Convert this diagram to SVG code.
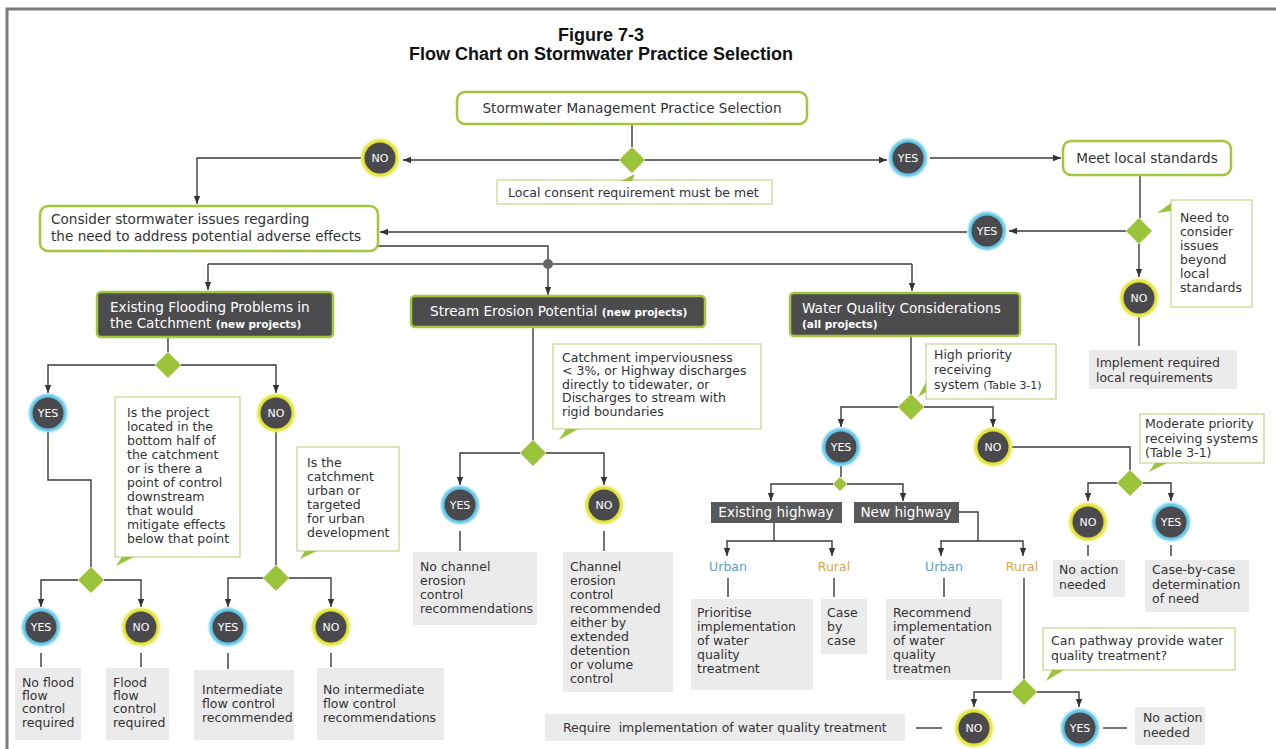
<svg xmlns="http://www.w3.org/2000/svg" width="1276" height="749" viewBox="0 0 1276 749">
<defs>
<style>
.t{font-family:"DejaVu Sans",Verdana,sans-serif;font-size:12.5px;fill:#333}
.tb{font-family:"DejaVu Sans",Verdana,sans-serif;font-size:13.6px;fill:#333}
.tw{font-family:"DejaVu Sans",Verdana,sans-serif;font-size:13.6px;fill:#fff}
.sm{font-size:10.5px;font-weight:bold}
.ttl{font-family:"Liberation Sans",Arial,sans-serif;font-size:18px;font-weight:bold;fill:#111;text-anchor:middle}
.gbox{fill:#fff;stroke:#a3c63c;stroke-width:2.5}
.dbox{fill:#4c4c4e;stroke:#a3c63c;stroke-width:2.5}
.hbox{fill:#595959}
.cbox{fill:#fff;stroke:#cdd596;stroke-width:1.3}
.gray{fill:#ebebeb}
.dia{fill:#9cc43a}
.tail{fill:#9cc43a}
.ln{fill:none;stroke:#3a3a3a;stroke-width:1.4}
.ar{marker-end:url(#ah)}
.cin{fill:#4a4a4e}
.ry{fill:#e2e32e}
.rb{fill:#5ec5e6}
.ct{font-family:"DejaVu Sans",Verdana,sans-serif;font-size:11px;fill:#fff;text-anchor:middle}
.urb{font-family:"DejaVu Sans",Verdana,sans-serif;font-size:12.5px;fill:#5b9fc9;text-anchor:middle}
.rur{font-family:"DejaVu Sans",Verdana,sans-serif;font-size:12.5px;fill:#d8a645;text-anchor:middle}
</style>
<marker id="ah" viewBox="0 0 10 10" refX="10" refY="5" markerWidth="8" markerHeight="8" orient="auto" markerUnits="userSpaceOnUse"><path d="M0,1 L10,5 L0,9 z" fill="#333"/></marker>
<filter id="bl" x="-30%" y="-30%" width="160%" height="160%"><feGaussianBlur stdDeviation="1.3"/></filter>
</defs>
<rect width="1276" height="749" fill="#fff"/>
<path d="M7,749 V9 H1276" fill="none" stroke="#7a7a7a" stroke-width="3"/>

<g id="title">
<text class="ttl" x="601" y="41">Figure 7-3</text>
<text class="ttl" x="601" y="60">Flow Chart on Stormwater Practice Selection</text>
</g>

<g id="connectors">
<path class="ln" d="M632,124 V147"/>
<path class="ln ar" d="M619,160 H403"/>
<path class="ln ar" d="M645,160 H887"/>
<path class="ln ar" d="M930,158 H1061"/>
<path class="ln ar" d="M361,158 H197 V204"/>
<path class="ln" d="M1140,175 V218"/>
<path class="ln ar" d="M1126,231 H1009"/>
<path class="ln ar" d="M1139,244 V277"/>
<path class="ln ar" d="M967,232 H380"/>
<path class="ln" d="M1139,317 V346"/>
<path class="ln" d="M378,246 H548 V264"/>
<path class="ln" d="M208,264 H912"/>
<path class="ln ar" d="M208,264 V290"/>
<path class="ln ar" d="M548,264 V295"/>
<path class="ln ar" d="M912,264 V291"/>
<circle cx="548" cy="264" r="5" fill="#666"/>
<path class="ln" d="M168,337 V352"/>
<path class="ln ar" d="M155,365 H48 V393"/>
<path class="ln ar" d="M181,365 H276 V393"/>
<path class="ln" d="M48,432 V480 H91 V567"/>
<path class="ln" d="M276,432 V565"/>
<path class="ln ar" d="M78,580 H41 V607"/>
<path class="ln ar" d="M104,580 H141 V607"/>
<path class="ln ar" d="M263,578 H228 V607"/>
<path class="ln ar" d="M289,578 H331 V607"/>
<path class="ln" d="M41,653 V667 M141,653 V667 M228,653 V669 M331,653 V667"/>
<path class="ln" d="M533,327 V440"/>
<path class="ln ar" d="M520,453 H460 V485"/>
<path class="ln ar" d="M546,453 H604 V485"/>
<path class="ln" d="M460,531 V551 M604,531 V551"/>
<path class="ln" d="M911,337 V394"/>
<path class="ln ar" d="M898,407 H841 V427"/>
<path class="ln ar" d="M924,407 H993 V427"/>
<path class="ln" d="M841,466 V477"/>
<path class="ln ar" d="M833,484 H771 V501"/>
<path class="ln ar" d="M847,484 H903 V501"/>
<path class="ln ar" d="M774,523 V541 H727 V556"/>
<path class="ln ar" d="M774,541 H832 V556"/>
<path class="ln" d="M959,512 H978 V541"/>
<path class="ln ar" d="M978,541 H941 V556"/>
<path class="ln ar" d="M978,541 H1023 V556"/>
<path class="ln" d="M728,578 V597 M834,578 V597 M944,578 V597"/>
<path class="ln" d="M1024,578 V679"/>
<path class="ln ar" d="M1011,692 H974 V707"/>
<path class="ln ar" d="M1037,692 H1079 V707"/>
<path class="ln" d="M916,728 H942"/>
<path class="ln" d="M1103,728 H1127"/>
<path class="ln" d="M1012,447 H1130 V470"/>
<path class="ln ar" d="M1117,483 H1088 V501"/>
<path class="ln ar" d="M1143,483 H1171 V501"/>
<path class="ln" d="M1088,545 V556 M1171,545 V556"/>
</g>

<g id="n_start">
<rect class="gbox" x="457" y="92" width="350" height="32" rx="8"/>
<text class="tb" x="632" y="113" text-anchor="middle">Stormwater Management Practice Selection</text>
</g>
<g id="d_local"><polygon class="dia" points="632,147 645,160 632,173 619,160"/></g>
<g id="c_local">
<rect class="cbox" x="497" y="180" width="275" height="24"/>
<polygon class="tail" points="621,181 632,181 635,174"/>
<text class="t" x="508" y="197">Local consent requirement must be met</text>
</g>
<g id="no1"><circle class="ry" cx="380" cy="158" r="19" filter="url(#bl)"/><circle class="cin" cx="380" cy="158" r="15.5"/><text class="ct" x="380" y="162">NO</text></g>
<g id="yes1"><circle class="rb" cx="908" cy="158" r="19" filter="url(#bl)"/><circle class="cin" cx="908" cy="158" r="15.5"/><text class="ct" x="908" y="162">YES</text></g>
<g id="n_meet">
<rect class="gbox" x="1063" y="141" width="168" height="34" rx="8"/>
<text class="tb" x="1147" y="163" text-anchor="middle">Meet local standards</text>
</g>
<g id="d_need"><polygon class="dia" points="1139,218 1152,231 1139,244 1126,231"/></g>
<g id="c_need">
<rect class="cbox" x="1171" y="200" width="81" height="107"/>
<polygon class="tail" points="1171,203 1171,211 1157,213"/>
<text class="t" x="1180" y="222">Need to</text>
<text class="t" x="1180" y="236">consider</text>
<text class="t" x="1180" y="250">issues</text>
<text class="t" x="1180" y="264">beyond</text>
<text class="t" x="1180" y="278">local</text>
<text class="t" x="1180" y="292">standards</text>
</g>
<g id="yes2"><circle class="rb" cx="987" cy="231" r="19" filter="url(#bl)"/><circle class="cin" cx="987" cy="231" r="15.5"/><text class="ct" x="987" y="235">YES</text></g>
<g id="no2"><circle class="ry" cx="1139" cy="298" r="19" filter="url(#bl)"/><circle class="cin" cx="1139" cy="298" r="15.5"/><text class="ct" x="1139" y="302">NO</text></g>
<g id="n_implement">
<rect class="gray" x="1089" y="350" width="148" height="39"/>
<text class="t" x="1096" y="367">Implement required</text>
<text class="t" x="1096" y="382">local requirements</text>
</g>
<g id="n_consider">
<rect class="gbox" x="40" y="206" width="338" height="45" rx="8"/>
<text class="tb" x="51" y="224">Consider stormwater issues regarding</text>
<text class="tb" x="51" y="241">the need to address potential adverse effects</text>
</g>

<g id="n_flood">
<rect class="dbox" x="97" y="292" width="236" height="45" rx="4"/>
<text class="tw" x="110" y="312">Existing Flooding Problems in</text>
<text class="tw" x="110" y="328">the Catchment <tspan class="sm">(new projects)</tspan></text>
</g>
<g id="d_flood"><polygon class="dia" points="168,352 181,365 168,378 155,365"/></g>
<g id="yes_f"><circle class="rb" cx="48" cy="413" r="19" filter="url(#bl)"/><circle class="cin" cx="48" cy="413" r="15.5"/><text class="ct" x="48" y="417">YES</text></g>
<g id="no_f"><circle class="ry" cx="276" cy="413" r="19" filter="url(#bl)"/><circle class="cin" cx="276" cy="413" r="15.5"/><text class="ct" x="276" y="417">NO</text></g>
<g id="c_project">
<rect class="cbox" x="115" y="397" width="125" height="160"/>
<polygon class="tail" points="122,557 134,557 116,566"/>
<text class="t" x="127" y="417">Is the project</text>
<text class="t" x="127" y="431">located in the</text>
<text class="t" x="127" y="445">bottom half of</text>
<text class="t" x="127" y="459">the catchment</text>
<text class="t" x="127" y="473">or is there a</text>
<text class="t" x="127" y="487">point of control</text>
<text class="t" x="127" y="501">downstream</text>
<text class="t" x="127" y="515">that would</text>
<text class="t" x="127" y="529">mitigate effects</text>
<text class="t" x="127" y="543">below that point</text>
</g>
<g id="c_urban">
<rect class="cbox" x="297" y="447" width="102" height="104"/>
<polygon class="tail" points="305,551 317,551 300,559"/>
<text class="t" x="307" y="467">Is the</text>
<text class="t" x="307" y="481">catchment</text>
<text class="t" x="307" y="495">urban or</text>
<text class="t" x="307" y="509">targeted</text>
<text class="t" x="307" y="523">for urban</text>
<text class="t" x="307" y="537">development</text>
</g>
<g id="d_proj"><polygon class="dia" points="91,567 104,580 91,593 78,580"/></g>
<g id="d_urb"><polygon class="dia" points="276,565 289,578 276,591 263,578"/></g>
<g id="yes_p"><circle class="rb" cx="41" cy="627" r="19" filter="url(#bl)"/><circle class="cin" cx="41" cy="627" r="15.5"/><text class="ct" x="41" y="631">YES</text></g>
<g id="no_p"><circle class="ry" cx="141" cy="627" r="19" filter="url(#bl)"/><circle class="cin" cx="141" cy="627" r="15.5"/><text class="ct" x="141" y="631">NO</text></g>
<g id="yes_u"><circle class="rb" cx="228" cy="627" r="19" filter="url(#bl)"/><circle class="cin" cx="228" cy="627" r="15.5"/><text class="ct" x="228" y="631">YES</text></g>
<g id="no_u"><circle class="ry" cx="331" cy="627" r="19" filter="url(#bl)"/><circle class="cin" cx="331" cy="627" r="15.5"/><text class="ct" x="331" y="631">NO</text></g>
<g id="r_noflood">
<rect class="gray" x="15" y="668" width="66" height="72"/>
<text class="t" x="22" y="687">No flood</text>
<text class="t" x="22" y="700">flow</text>
<text class="t" x="22" y="713">control</text>
<text class="t" x="22" y="727">required</text>
</g>
<g id="r_flood">
<rect class="gray" x="106" y="668" width="63" height="72"/>
<text class="t" x="113" y="687">Flood</text>
<text class="t" x="113" y="700">flow</text>
<text class="t" x="113" y="713">control</text>
<text class="t" x="113" y="727">required</text>
</g>
<g id="r_inter">
<rect class="gray" x="194" y="670" width="100" height="70"/>
<text class="t" x="202" y="694">Intermediate</text>
<text class="t" x="202" y="708">flow control</text>
<text class="t" x="202" y="722">recommended</text>
</g>
<g id="r_nointer">
<rect class="gray" x="317" y="668" width="127" height="72"/>
<text class="t" x="323" y="694">No intermediate</text>
<text class="t" x="323" y="708">flow control</text>
<text class="t" x="323" y="722">recommendations</text>
</g>

<g id="n_erosion">
<rect class="dbox" x="411" y="296" width="294" height="31" rx="4"/>
<text class="tw" x="430" y="316">Stream Erosion Potential <tspan class="sm">(new projects)</tspan></text>
</g>
<g id="c_imperv">
<rect class="cbox" x="553" y="344" width="208" height="85"/>
<polygon class="tail" points="566,429 578,429 559,440"/>
<text class="t" x="562" y="362">Catchment imperviousness</text>
<text class="t" x="562" y="375">&lt; 3%, or Highway discharges</text>
<text class="t" x="562" y="389">directly to tidewater, or</text>
<text class="t" x="562" y="402">Discharges to stream with</text>
<text class="t" x="562" y="416">rigid boundaries</text>
</g>
<g id="d_eros"><polygon class="dia" points="533,440 546,453 533,466 520,453"/></g>
<g id="yes_e"><circle class="rb" cx="460" cy="505" r="19" filter="url(#bl)"/><circle class="cin" cx="460" cy="505" r="15.5"/><text class="ct" x="460" y="509">YES</text></g>
<g id="no_e"><circle class="ry" cx="604" cy="505" r="19" filter="url(#bl)"/><circle class="cin" cx="604" cy="505" r="15.5"/><text class="ct" x="604" y="509">NO</text></g>
<g id="r_nochan">
<rect class="gray" x="413" y="552" width="124" height="73"/>
<text class="t" x="420" y="571">No channel</text>
<text class="t" x="420" y="585">erosion</text>
<text class="t" x="420" y="599">control</text>
<text class="t" x="420" y="613">recommendations</text>
</g>
<g id="r_chan">
<rect class="gray" x="563" y="552" width="110" height="140"/>
<text class="t" x="570" y="571">Channel</text>
<text class="t" x="570" y="585">erosion</text>
<text class="t" x="570" y="599">control</text>
<text class="t" x="570" y="613">recommended</text>
<text class="t" x="570" y="627">either by</text>
<text class="t" x="570" y="641">extended</text>
<text class="t" x="570" y="655">detention</text>
<text class="t" x="570" y="669">or volume</text>
<text class="t" x="570" y="683">control</text>
</g>

<g id="n_wq">
<rect class="dbox" x="790" y="293" width="230" height="43" rx="4"/>
<text class="tw" x="802" y="313">Water Quality Considerations</text>
<text class="tw sm" x="802" y="328">(all projects)</text>
</g>
<g id="c_high">
<rect class="cbox" x="926" y="344" width="130" height="55"/>
<polygon class="tail" points="926,382 926,392 918,397"/>
<text class="t" x="934" y="359">High priority</text>
<text class="t" x="934" y="374">receiving</text>
<text class="t" x="934" y="389">system <tspan font-size="11">(Table 3-1)</tspan></text>
</g>
<g id="d_wq"><polygon class="dia" points="911,394 924,407 911,420 898,407"/></g>
<g id="yes_w"><circle class="rb" cx="841" cy="447" r="19" filter="url(#bl)"/><circle class="cin" cx="841" cy="447" r="15.5"/><text class="ct" x="841" y="451">YES</text></g>
<g id="no_w"><circle class="ry" cx="993" cy="447" r="19" filter="url(#bl)"/><circle class="cin" cx="993" cy="447" r="15.5"/><text class="ct" x="993" y="451">NO</text></g>
<g id="d_hw"><polygon class="dia" points="840,477 847,484 840,491 833,484"/></g>
<g id="n_exist">
<rect class="hbox" x="711" y="502" width="131" height="21"/>
<text class="tw" x="776" y="517" text-anchor="middle">Existing highway</text>
</g>
<g id="n_new">
<rect class="hbox" x="854" y="502" width="105" height="21"/>
<text class="tw" x="906" y="517" text-anchor="middle">New highway</text>
</g>
<g id="l_urban1"><text class="urb" x="728" y="571">Urban</text></g>
<g id="l_rural1"><text class="rur" x="834" y="571">Rural</text></g>
<g id="l_urban2"><text class="urb" x="944" y="571">Urban</text></g>
<g id="l_rural2"><text class="rur" x="1022" y="571">Rural</text></g>
<g id="r_prior">
<rect class="gray" x="691" y="599" width="122" height="91"/>
<text class="t" x="697" y="617">Prioritise</text>
<text class="t" x="697" y="631">implementation</text>
<text class="t" x="697" y="645">of water</text>
<text class="t" x="697" y="659">quality</text>
<text class="t" x="697" y="673">treatment</text>
</g>
<g id="r_case">
<rect class="gray" x="821" y="599" width="46" height="55"/>
<text class="t" x="827" y="617">Case</text>
<text class="t" x="827" y="631">by</text>
<text class="t" x="827" y="645">case</text>
</g>
<g id="r_recom">
<rect class="gray" x="886" y="599" width="116" height="81"/>
<text class="t" x="893" y="617">Recommend</text>
<text class="t" x="893" y="631">implementation</text>
<text class="t" x="893" y="645">of water</text>
<text class="t" x="893" y="659">quality</text>
<text class="t" x="893" y="673">treatmen</text>
</g>
<g id="c_path">
<rect class="cbox" x="1043" y="628" width="192" height="42"/>
<polygon class="tail" points="1052,670 1064,670 1046,681"/>
<text class="t" x="1051" y="645">Can pathway provide water</text>
<text class="t" x="1051" y="660">quality treatment?</text>
</g>
<g id="d_path"><polygon class="dia" points="1024,679 1037,692 1024,705 1011,692"/></g>
<g id="no_p2"><circle class="ry" cx="974" cy="728" r="19" filter="url(#bl)"/><circle class="cin" cx="974" cy="728" r="15.5"/><text class="ct" x="974" y="732">NO</text></g>
<g id="yes_p2"><circle class="rb" cx="1080" cy="728" r="19" filter="url(#bl)"/><circle class="cin" cx="1080" cy="728" r="15.5"/><text class="ct" x="1080" y="732">YES</text></g>
<g id="r_require">
<rect class="gray" x="545" y="714" width="360" height="27"/>
<text class="t" x="563" y="732" xml:space="preserve">Require  implementation of water quality treatment</text>
</g>
<g id="r_noact2">
<rect class="gray" x="1135" y="707" width="70" height="38"/>
<text class="t" x="1143" y="722">No action</text>
<text class="t" x="1143" y="737">needed</text>
</g>
<g id="c_moder">
<rect class="cbox" x="1140" y="414" width="124" height="49"/>
<polygon class="tail" points="1155,463 1167,463 1149,472"/>
<text class="t" x="1145" y="428">Moderate priority</text>
<text class="t" x="1145" y="443">receiving systems</text>
<text class="t" x="1145" y="457" font-size="11">(Table 3-1)</text>
</g>
<g id="d_mod"><polygon class="dia" points="1130,470 1143,483 1130,496 1117,483"/></g>
<g id="no_m"><circle class="ry" cx="1088" cy="522" r="19" filter="url(#bl)"/><circle class="cin" cx="1088" cy="522" r="15.5"/><text class="ct" x="1088" y="526">NO</text></g>
<g id="yes_m"><circle class="rb" cx="1171" cy="522" r="19" filter="url(#bl)"/><circle class="cin" cx="1171" cy="522" r="15.5"/><text class="ct" x="1171" y="526">YES</text></g>
<g id="r_noact1">
<rect class="gray" x="1053" y="560" width="72" height="37"/>
<text class="t" x="1059" y="574">No action</text>
<text class="t" x="1059" y="589">needed</text>
</g>
<g id="r_casebc">
<rect class="gray" x="1145" y="560" width="104" height="52"/>
<text class="t" x="1152" y="574">Case-by-case</text>
<text class="t" x="1152" y="589">determination</text>
<text class="t" x="1152" y="603">of need</text>
</g>
</svg>
